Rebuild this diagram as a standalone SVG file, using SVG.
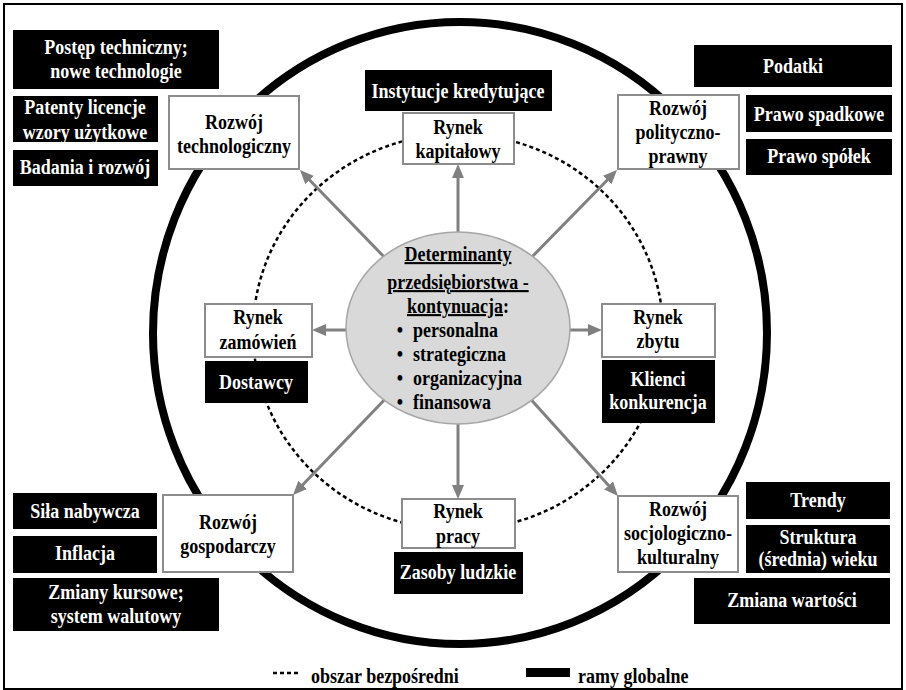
<svg xmlns="http://www.w3.org/2000/svg" width="906" height="690" viewBox="0 0 906 690">
<defs>
<style>
text{font-family:"Liberation Serif","Times New Roman",serif;font-weight:bold;font-size:18px;text-anchor:middle}
.w{fill:#ffffff}
.k{fill:#000000}
.s{text-anchor:start}
.box{fill:#ffffff;stroke:#8c8c8c;stroke-width:2}
.blk{fill:#000000}
.arr{stroke:#808080;stroke-width:3;fill:none;marker-end:url(#ah)}
.dash{fill:none;stroke:#000000;stroke-width:2.5;stroke-dasharray:4 3}
.u{text-decoration:underline}
</style>
<marker id="ah" markerUnits="userSpaceOnUse" markerWidth="14" markerHeight="12" viewBox="0 0 14 12" refX="4" refY="6" orient="auto">
<path d="M0,0 L14,6 L0,12 z" fill="#808080"/>
</marker>
</defs>
<rect x="0" y="0" width="906" height="690" fill="#ffffff"/>
<rect x="4" y="4" width="898" height="685" fill="none" stroke="#000000" stroke-width="2"/>
<ellipse id="outer-ring" cx="460" cy="333" rx="307" ry="311" fill="none" stroke="#000000" stroke-width="8"/>
<ellipse id="direct-area" class="dash" cx="458" cy="332" rx="205" ry="198"/>
<g id="connectors">
<line class="arr" x1="458" y1="250" x2="458" y2="174"/>
<line class="arr" x1="390" y1="263" x2="306.9" y2="177.2"/>
<line class="arr" x1="526" y1="263" x2="610" y2="177.2"/>
<line class="arr" x1="360" y1="330" x2="322" y2="330"/>
<line class="arr" x1="556" y1="330" x2="592" y2="330"/>
<line class="arr" x1="390" y1="394" x2="299.9" y2="487.8"/>
<line class="arr" x1="458" y1="410" x2="458" y2="489"/>
<line class="arr" x1="526" y1="394" x2="611.3" y2="488.5"/>
</g>
<g id="center">
<ellipse cx="458" cy="328" rx="112" ry="96" fill="#d9d9d9" stroke="#a6a6a6" stroke-width="1.5"/>
<text x="458" transform="matrix(1 0 0 1.17 0 261)" class="k u">Determinanty</text>
<text x="458" transform="matrix(1 0 0 1.17 0 289)" class="k u">przedsiębiorstwa -</text>
<text x="458" transform="matrix(1 0 0 1.17 0 313)" class="k"><tspan class="u">kontynuacja</tspan>:</text>
<text x="400" transform="matrix(1 0 0 1.17 0 337)" class="k">•</text><text x="413" transform="matrix(1 0 0 1.17 0 337)" class="k s">personalna</text>
<text x="400" transform="matrix(1 0 0 1.17 0 361)" class="k">•</text><text x="413" transform="matrix(1 0 0 1.17 0 361)" class="k s">strategiczna</text>
<text x="400" transform="matrix(1 0 0 1.17 0 385)" class="k">•</text><text x="413" transform="matrix(1 0 0 1.17 0 385)" class="k s">organizacyjna</text>
<text x="400" transform="matrix(1 0 0 1.17 0 409)" class="k">•</text><text x="413" transform="matrix(1 0 0 1.17 0 409)" class="k s">finansowa</text>
</g>
<g id="rozwoj-technologiczny">
<rect class="box" x="169" y="96" width="130" height="73"/>
<text x="234" transform="matrix(1 0 0 1.17 0 129)" class="k">Rozwój</text>
<text x="234" transform="matrix(1 0 0 1.17 0 153)" class="k">technologiczny</text>
</g>
<g id="rynek-kapitalowy">
<rect class="box" x="403" y="113" width="111" height="51"/>
<text x="458" transform="matrix(1 0 0 1.17 0 134)" class="k">Rynek</text>
<text x="458" transform="matrix(1 0 0 1.17 0 158)" class="k">kapitałowy</text>
</g>
<g id="rozwoj-polityczno-prawny">
<rect class="box" x="618" y="95" width="121" height="74"/>
<text x="678" transform="matrix(1 0 0 1.17 0 115)" class="k">Rozwój</text>
<text x="678" transform="matrix(1 0 0 1.17 0 139)" class="k">polityczno-</text>
<text x="678" transform="matrix(1 0 0 1.17 0 163)" class="k">prawny</text>
</g>
<g id="rynek-zamowien">
<rect class="box" x="205" y="304" width="107" height="53"/>
<text x="258" transform="matrix(1 0 0 1.17 0 324)" class="k">Rynek</text>
<text x="258" transform="matrix(1 0 0 1.17 0 349)" class="k">zamówień</text>
</g>
<g id="rynek-zbytu">
<rect class="box" x="602" y="304" width="113" height="53"/>
<text x="658" transform="matrix(1 0 0 1.17 0 324)" class="k">Rynek</text>
<text x="658" transform="matrix(1 0 0 1.17 0 348)" class="k">zbytu</text>
</g>
<g id="rozwoj-gospodarczy">
<rect class="box" x="163" y="495" width="130" height="77"/>
<text x="228" transform="matrix(1 0 0 1.17 0 529)" class="k">Rozwój</text>
<text x="228" transform="matrix(1 0 0 1.17 0 553)" class="k">gospodarczy</text>
</g>
<g id="rynek-pracy">
<rect class="box" x="402" y="499" width="113" height="49"/>
<text x="458" transform="matrix(1 0 0 1.17 0 518)" class="k">Rynek</text>
<text x="458" transform="matrix(1 0 0 1.17 0 543)" class="k">pracy</text>
</g>
<g id="rozwoj-socjologiczno-kulturalny">
<rect class="box" x="618" y="496" width="120" height="76"/>
<text x="678" transform="matrix(1 0 0 1.17 0 516)" class="k">Rozwój</text>
<text x="678" transform="matrix(1 0 0 1.17 0 540)" class="k">socjologiczno-</text>
<text x="678" transform="matrix(1 0 0 1.17 0 564)" class="k">kulturalny</text>
</g>
<g id="postep-techniczny">
<rect class="blk" x="13" y="30" width="206" height="59"/>
<text x="116" transform="matrix(1 0 0 1.17 0 54)" class="w">Postęp techniczny;</text>
<text x="116" transform="matrix(1 0 0 1.17 0 78)" class="w">nowe technologie</text>
</g>
<g id="patenty">
<rect class="blk" x="13" y="96" width="145" height="46"/>
<text x="85" transform="matrix(1 0 0 1.17 0 114)" class="w">Patenty licencje</text>
<text x="85" transform="matrix(1 0 0 1.17 0 139)" class="w">wzory użytkowe</text>
</g>
<g id="badania">
<rect class="blk" x="13" y="150" width="145" height="36"/>
<text x="85" transform="matrix(1 0 0 1.17 0 174)" class="w">Badania i rozwój</text>
</g>
<g id="instytucje">
<rect class="blk" x="365" y="70" width="187" height="41"/>
<text x="458" transform="matrix(1 0 0 1.17 0 98)" class="w">Instytucje kredytujące</text>
</g>
<g id="podatki">
<rect class="blk" x="694" y="45" width="198" height="42"/>
<text x="793" transform="matrix(1 0 0 1.17 0 73)" class="w">Podatki</text>
</g>
<g id="prawo-spadkowe">
<rect class="blk" x="746" y="95" width="146" height="37"/>
<text x="819" transform="matrix(1 0 0 1.17 0 121)" class="w">Prawo spadkowe</text>
</g>
<g id="prawo-spolek">
<rect class="blk" x="746" y="139" width="146" height="36"/>
<text x="819" transform="matrix(1 0 0 1.17 0 163)" class="w">Prawo spółek</text>
</g>
<g id="dostawcy">
<rect class="blk" x="205" y="361" width="103" height="42"/>
<text x="256" transform="matrix(1 0 0 1.17 0 389)" class="w">Dostawcy</text>
</g>
<g id="klienci">
<rect class="blk" x="602" y="360" width="113" height="63"/>
<text x="658" transform="matrix(1 0 0 1.17 0 386)" class="w">Klienci</text>
<text x="658" transform="matrix(1 0 0 1.17 0 409)" class="w">konkurencja</text>
</g>
<g id="sila-nabywcza">
<rect class="blk" x="13" y="493" width="144" height="36"/>
<text x="85" transform="matrix(1 0 0 1.17 0 518)" class="w">Siła nabywcza</text>
</g>
<g id="inflacja">
<rect class="blk" x="13" y="536" width="144" height="37"/>
<text x="85" transform="matrix(1 0 0 1.17 0 560)" class="w">Inflacja</text>
</g>
<g id="zmiany-kursowe">
<rect class="blk" x="13" y="578" width="206" height="53"/>
<text x="116" transform="matrix(1 0 0 1.17 0 599)" class="w">Zmiany kursowe;</text>
<text x="116" transform="matrix(1 0 0 1.17 0 623)" class="w">system walutowy</text>
</g>
<g id="zasoby-ludzkie">
<rect class="blk" x="394" y="552" width="129" height="42"/>
<text x="458" transform="matrix(1 0 0 1.17 0 579)" class="w">Zasoby ludzkie</text>
</g>
<g id="trendy">
<rect class="blk" x="746" y="482" width="144" height="37"/>
<text x="818" transform="matrix(1 0 0 1.17 0 507)" class="w">Trendy</text>
</g>
<g id="struktura">
<rect class="blk" x="746" y="525" width="144" height="48"/>
<text x="818" transform="matrix(1 0 0 1.17 0 544)" class="w">Struktura</text>
<text x="818" transform="matrix(1 0 0 1.17 0 566)" class="w">(średnia) wieku</text>
</g>
<g id="zmiana-wartosci">
<rect class="blk" x="694" y="578" width="196" height="46"/>
<text x="792" transform="matrix(1 0 0 1.17 0 607)" class="w">Zmiana wartości</text>
</g>
<g id="legend">
<line class="dash" x1="273" y1="673" x2="300" y2="673"/>
<text x="311" transform="matrix(1 0 0 1.17 0 683)" class="k s">obszar bezpośredni</text>
<rect class="blk" x="526" y="668" width="44" height="9"/>
<text x="578" transform="matrix(1 0 0 1.17 0 683)" class="k s">ramy globalne</text>
</g>
</svg>
